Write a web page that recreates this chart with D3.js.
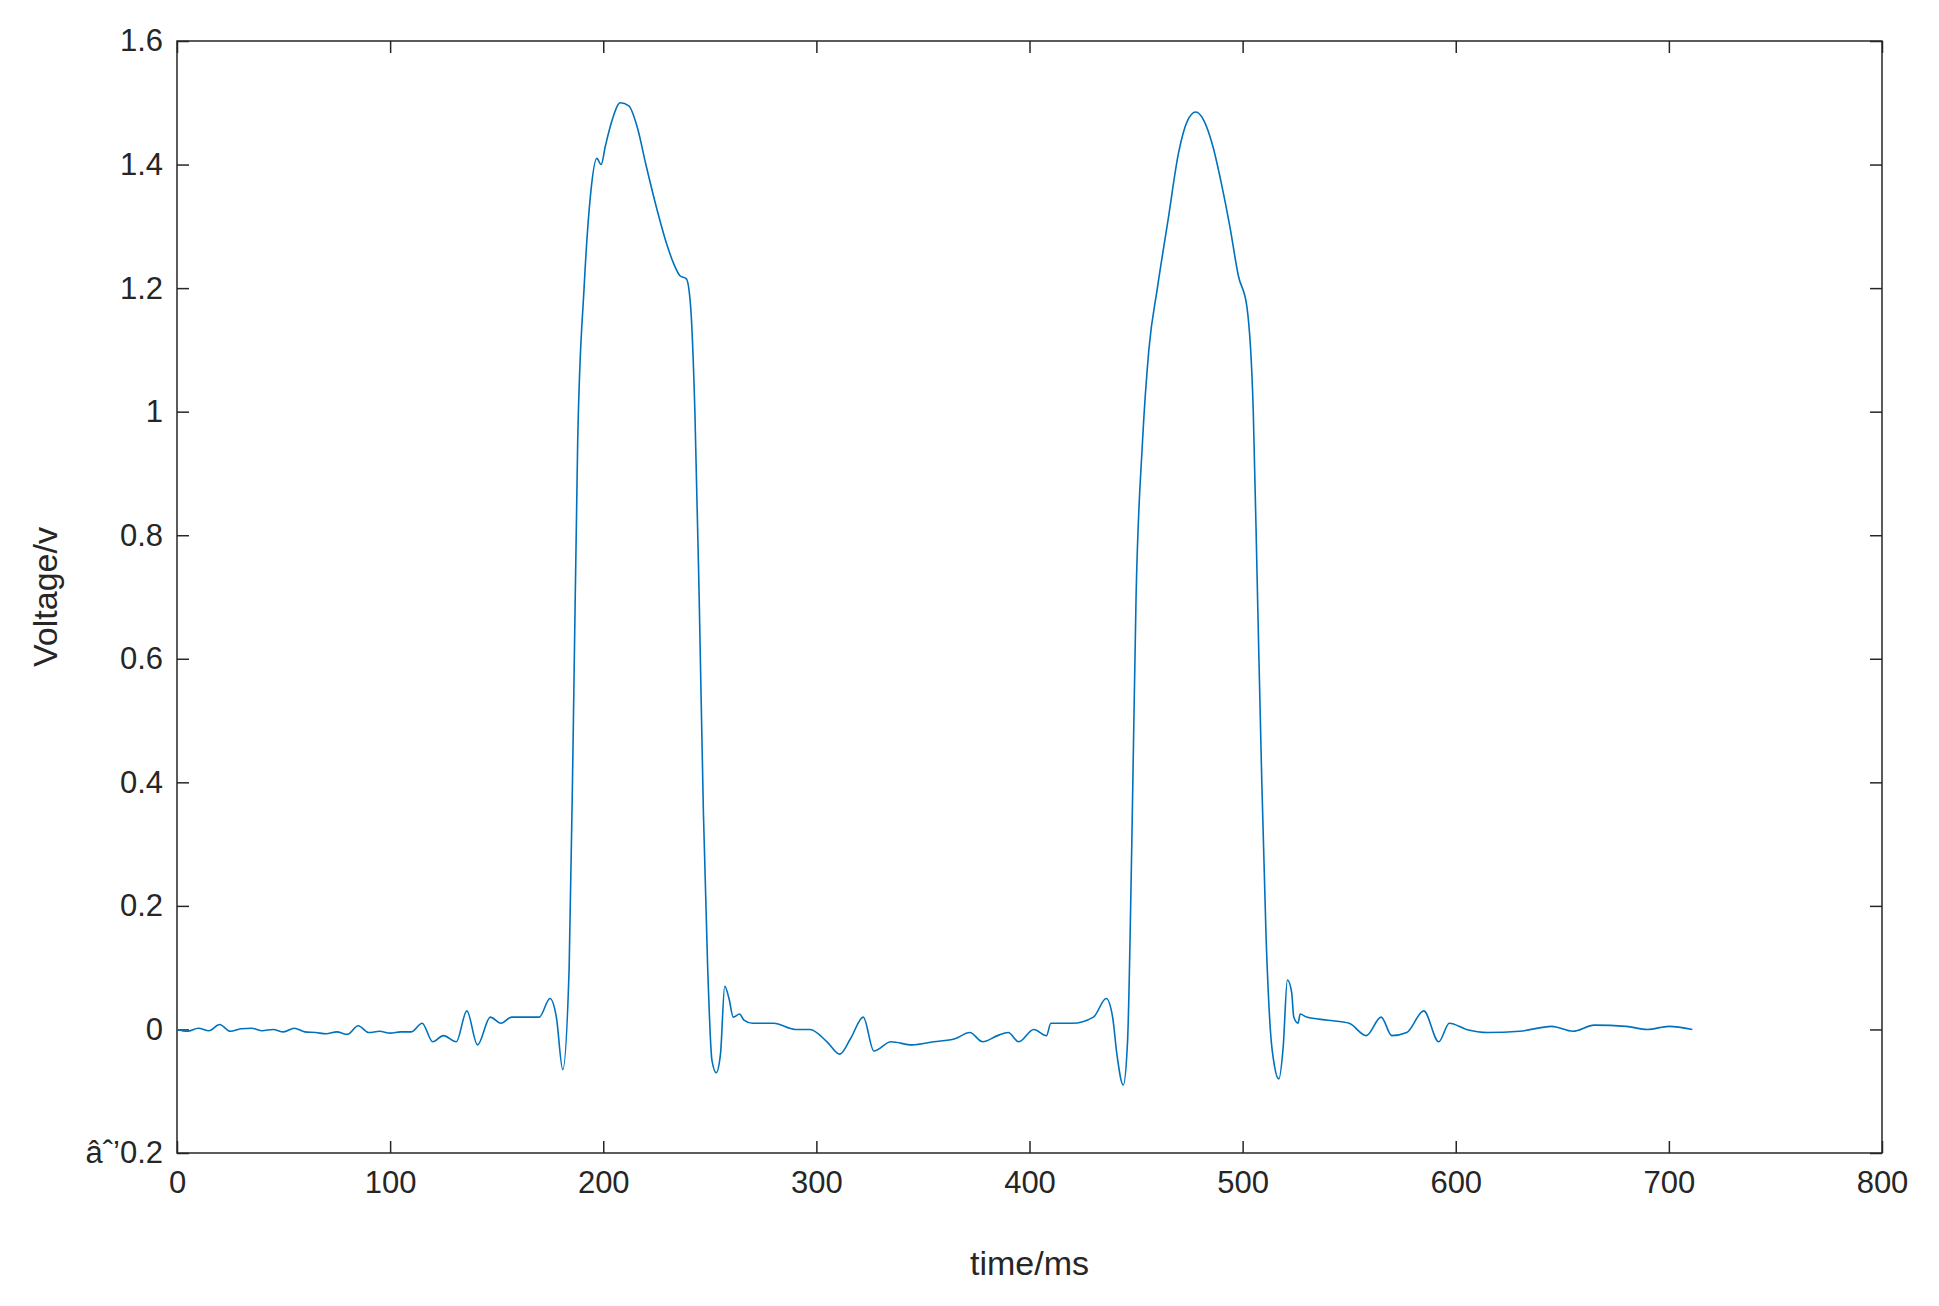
<!DOCTYPE html><html><head><script src="https://cdn.jsdelivr.net/npm/d3@7"></script>
<style>body{margin:0;background:#fff}text{font-family:"Liberation Sans",Arial,sans-serif;fill:#262626}</style></head><body><svg id="c" width="1939" height="1306"></svg><script>
const times=[0,5,10,15,20,25,30,35,40,45,50,55,60,65,70,75,80,85,90,95,100,105,110,115,120,125,131,136,141,147,152,157,163,170,175,178,181,184,186,188,191,194,197,199,201,204,208,212,216,220,225,229,233,236,239,241,243,245,247,249,251,253,255,257,259,261,264,266,270,280,290,297,305,311,316,322,327,335,345,355,365,372,378,385,390,395,402,408,410,420,430,436,439,441,444,446,448,450,453,456,460,465,470,474,478,482,486,490,494,498,502,505,507,509,511,513,515,517,519,521,523,524,526,527,530,540,550,558,565,570,577,585,592,597,605,615,630,645,655,665,680,690,700,711];
const volts=[0,-0.003,0.002,-0.002,0.008,-0.003,0.001,0.002,-0.002,0,-0.004,0.002,-0.004,-0.005,-0.007,-0.004,-0.008,0.006,-0.005,-0.003,-0.006,-0.004,-0.004,0.01,-0.02,-0.01,-0.02,0.03,-0.025,0.02,0.01,0.02,0.02,0.02,0.05,0.02,-0.065,0.1,0.5,0.95,1.2,1.35,1.41,1.40,1.43,1.47,1.50,1.495,1.46,1.40,1.33,1.28,1.24,1.22,1.215,1.17,1.0,0.7,0.35,0.1,-0.05,-0.07,-0.04,0.07,0.05,0.02,0.025,0.015,0.01,0.01,0.0,0.0,-0.02,-0.04,-0.015,0.02,-0.035,-0.02,-0.025,-0.02,-0.015,-0.005,-0.02,-0.01,-0.005,-0.02,0.0,-0.01,0.01,0.01,0.02,0.05,0.02,-0.04,-0.09,-0.02,0.3,0.7,0.95,1.1,1.2,1.31,1.42,1.47,1.485,1.47,1.43,1.37,1.3,1.22,1.17,1.0,0.7,0.4,0.15,0.0,-0.06,-0.08,-0.03,0.08,0.06,0.02,0.01,0.025,0.02,0.015,0.01,-0.01,0.02,-0.01,-0.005,0.03,-0.02,0.01,0.0,-0.005,-0.003,0.005,-0.003,0.007,0.005,0.0,0.005,0.0];
const xTicks=[0,100,200,300,400,500,600,700,800];
const yTicks=[-0.2,0,0.2,0.4,0.6,0.8,1,1.2,1.4,1.6];
const L=177,R=1882,T=41,B=1153;
const svg=d3.select("#c");
const x=d3.scaleLinear().domain([0,800]).range([L,R]);
const y=d3.scaleLinear().domain([-0.2,1.6]).range([B,T]);
const ax=(g)=>{g.selectAll(".domain").remove();g.selectAll("line").attr("stroke","#262626").attr("stroke-width",1.5);g.selectAll("text").attr("font-size",31).style("fill","#262626");};
svg.append("g").attr("transform",`translate(0,${B})`).call(d3.axisBottom(x).tickValues(xTicks).tickSize(-12).tickPadding(18).tickFormat(d3.format("d"))).call(ax);
svg.append("g").attr("transform",`translate(0,${T})`).call(d3.axisTop(x).tickValues(xTicks).tickSize(-12).tickFormat("")).call(ax);
svg.append("g").attr("transform",`translate(${L},0)`).call(d3.axisLeft(y).tickValues(yTicks).tickSize(-12).tickPadding(14).tickFormat(d=>d3.format("")(+d.toFixed(1)))).call(ax);
svg.append("g").attr("transform",`translate(${R},0)`).call(d3.axisRight(y).tickValues(yTicks).tickSize(-12).tickFormat("")).call(ax);
svg.append("rect").attr("x",L).attr("y",T).attr("width",R-L).attr("height",B-T).attr("fill","none").attr("stroke","#262626").attr("stroke-width",1.5);
svg.append("path").datum(times.map((t,i)=>[t,volts[i]])).attr("fill","none").attr("stroke","#0072BD").attr("stroke-width",1.6)
 .attr("d",d3.line().x(d=>x(d[0])).y(d=>y(d[1])).curve(d3.curveMonotoneX));
svg.append("text").attr("x",(L+R)/2).attr("y",1275).attr("text-anchor","middle").attr("font-size",34).text("time/ms");
svg.append("text").attr("transform",`translate(57,${(T+B)/2}) rotate(-90)`).attr("text-anchor","middle").attr("font-size",34).text("Voltage/v");
</script></body></html>
